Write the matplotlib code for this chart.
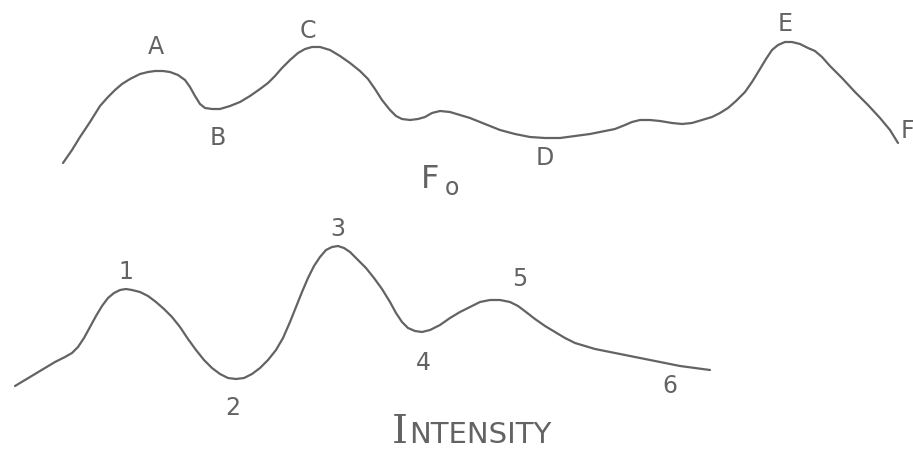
import matplotlib
matplotlib.use("Agg")
import matplotlib.pyplot as plt

# hand-drawn sketch, coordinates in pixels (y grows downward)
f0_x = [63, 72, 80, 90, 100, 108, 115, 122, 130, 140, 148, 155, 163, 170, 178, 185, 190, 195, 200,
        205, 212, 220, 230, 240, 250, 260, 268, 275, 282, 290, 298, 305, 312, 320, 330, 340, 350,
        360, 368, 375, 382, 390, 396, 402, 410, 418, 425, 432, 440, 450, 460, 470, 485, 500, 515,
        530, 545, 560, 575, 590, 605, 615, 625, 632, 640, 650, 660, 672, 682, 692, 702, 712, 720,
        728, 736, 745, 752, 760, 766, 772, 778, 785, 792, 800, 808, 815, 822, 830, 842, 855, 868,
        880, 890, 898]
f0_y = [163, 150, 137, 122, 106, 97, 90, 84, 79, 74, 72, 71, 71, 72, 75, 80, 87, 96, 104,
        108, 109, 109, 106, 102, 96, 89, 83, 76, 68, 60, 53, 49, 47, 47, 50, 56, 63,
        71, 79, 89, 100, 110, 116, 119, 120, 119, 117, 113, 111, 112, 115, 118, 124, 130, 134,
        137, 138, 138, 136, 134, 131, 129, 125, 122, 120, 120, 121, 123, 124, 123, 120, 117, 113,
        108, 101, 92, 82, 69, 59, 50, 45, 42, 42, 44, 48, 51, 57, 66, 78, 92, 105,
        118, 130, 143]

int_x = [15, 25, 35, 45, 55, 65, 72, 78, 84, 90, 96, 102, 108, 114, 120, 126, 132, 140, 148,
         156, 164, 172, 180, 188, 196, 204, 212, 220, 228, 236, 244, 252, 260, 268, 276, 283, 290,
         296, 302, 308, 314, 320, 326, 332, 338, 344, 350, 358, 366, 374, 382, 390, 396, 402, 408,
         415, 422, 430, 440, 450, 460, 470, 480, 490, 500, 510, 518, 526, 535, 545, 555, 565, 575,
         585, 595, 605, 620, 635, 650, 665, 680, 695, 710]
int_y = [386, 380, 374, 368, 362, 357, 353, 347, 338, 327, 316, 306, 298, 293, 290, 289, 290, 292, 296,
         302, 309, 317, 327, 339, 350, 360, 368, 374, 378, 379, 378, 374, 368, 360, 350, 338, 322,
         307, 292, 278, 266, 257, 250, 247, 246, 248, 252, 260, 268, 278, 289, 302, 313, 322, 328,
         331, 332, 330, 325, 318, 312, 307, 302, 300, 300, 302, 306, 312, 319, 326, 332, 338, 343,
         346, 349, 351, 354, 357, 360, 363, 366, 368, 370]

f0_labels = ["A", "B", "C", "D", "E", "F"]
f0_lab_x = [156, 218, 308, 545, 785, 907]
f0_lab_y = [47, 138, 31, 158, 24, 131]

int_labels = ["1", "2", "3", "4", "5", "6"]
int_lab_x = [126, 233, 338, 423, 520, 670]
int_lab_y = [272, 408, 229, 363, 279, 386]

ink = "#636363"

fig = plt.figure(figsize=(9.13, 4.51), dpi=100)
ax = fig.add_axes([0, 0, 1, 1])
ax.set_xlim(0, 913)
ax.set_ylim(451, 0)
ax.axis("off")

ax.plot(f0_x, f0_y, color=ink, lw=1.6, solid_capstyle="round", solid_joinstyle="round")
ax.plot(int_x, int_y, color=ink, lw=1.6, solid_capstyle="round", solid_joinstyle="round")

for t, x, y in zip(f0_labels + int_labels, f0_lab_x + int_lab_x, f0_lab_y + int_lab_y):
    ax.text(x, y, t, color=ink, fontsize=17, ha="center", va="center", family="DejaVu Sans")

# F0 title and the small-caps INTENSITY title
ax.text(430, 180, "F", color=ink, fontsize=23, ha="center", va="center")
ax.text(452, 188, "o", color=ink, fontsize=17, ha="center", va="center")
ax.text(392, 443, "I", color=ink, fontsize=29, ha="left", va="baseline", family="DejaVu Serif")
ax.text(409, 443, "NTENSITY", color=ink, fontsize=21, ha="left", va="baseline")

fig.savefig("out.png", dpi=100, facecolor="white")
